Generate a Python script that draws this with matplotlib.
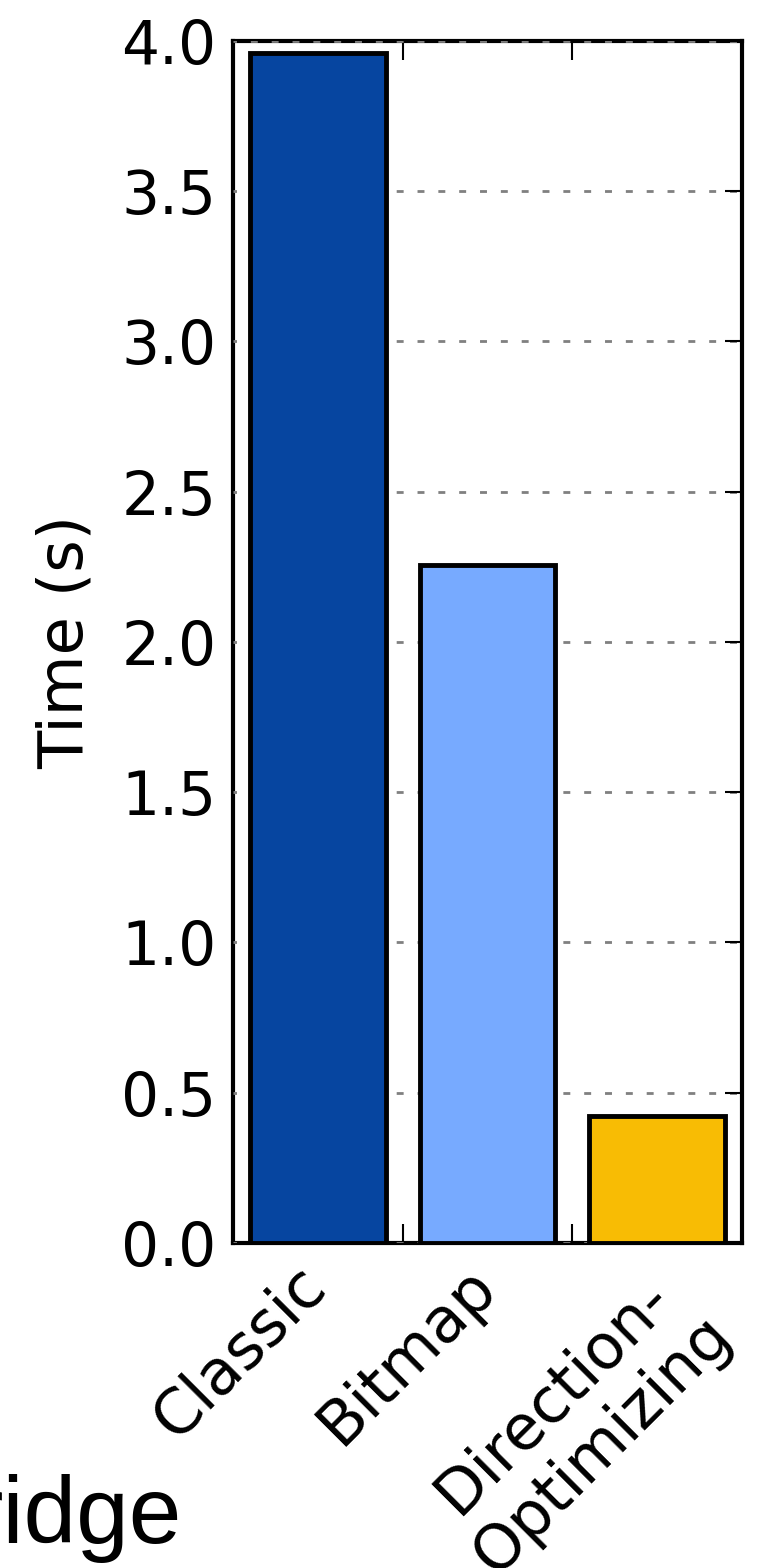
import matplotlib
matplotlib.use("Agg")
import matplotlib.pyplot as plt
import matplotlib.transforms as mtransforms
import numpy as np

# BFS run time per implementation
labels = ["Classic", "Bitmap", "Direction-\nOptimizing"]
times = [3.96, 2.255, 0.423]
colors = ["#0645a0", "#77aaff", "#f8bc04"]
yticks = [0.0, 0.5, 1.0, 1.5, 2.0, 2.5, 3.0, 3.5, 4.0]

fig = plt.figure(figsize=(7.63, 15.68), dpi=100)
ax = fig.add_axes([0.3054, 0.2073, 0.6671, 0.7666])

x = np.arange(len(labels))
ax.bar(x, times, width=0.8, color=colors, edgecolor="black", linewidth=3.5, zorder=3)

ax.set_xlim(-0.5, 2.5)
ax.set_ylim(0, 4.0)
ax.set_yticks(yticks)
ax.set_yticklabels([f"{v:.1f}" for v in yticks], fontsize=43)
ax.set_xticks(x)
ax.set_xticklabels(labels, rotation=45, ha="right", va="top", rotation_mode="anchor",
                   fontsize=45, multialignment="center")
ax.set_xticks([0.5, 1.5], minor=True)

ax.tick_params(axis="x", which="major", length=0, pad=9)
ax.tick_params(axis="x", which="minor", direction="in", length=14, width=1.5,
               top=True, bottom=True)
ax.tick_params(axis="y", direction="in", length=12, width=1.5, left=False, right=True,
               pad=12)

# nudge the one-line labels a bit to the left
for lbl in ax.get_xticklabels():
    dx = -0.05 if "\n" in lbl.get_text() else -0.22
    lbl.set_transform(lbl.get_transform()
                      + mtransforms.ScaledTranslation(dx, 0, fig.dpi_scale_trans))

ax.set_ylabel("Time (s)", fontsize=45, labelpad=18)

# grid sits above the frame but under the bars
ax.set_axisbelow(False)
ax.yaxis.grid(True, color="gray", linestyle=(1.25, (2.5, 5)), linewidth=2)

for sp in ax.spines.values():
    sp.set_linewidth(3)
    sp.set_zorder(2)

fig.text(182 / 763, 1 - 1543 / 1568, "ridge", fontsize=68, family="Liberation Sans",
         ha="right", va="baseline")

fig.savefig("out.png", dpi=100)
